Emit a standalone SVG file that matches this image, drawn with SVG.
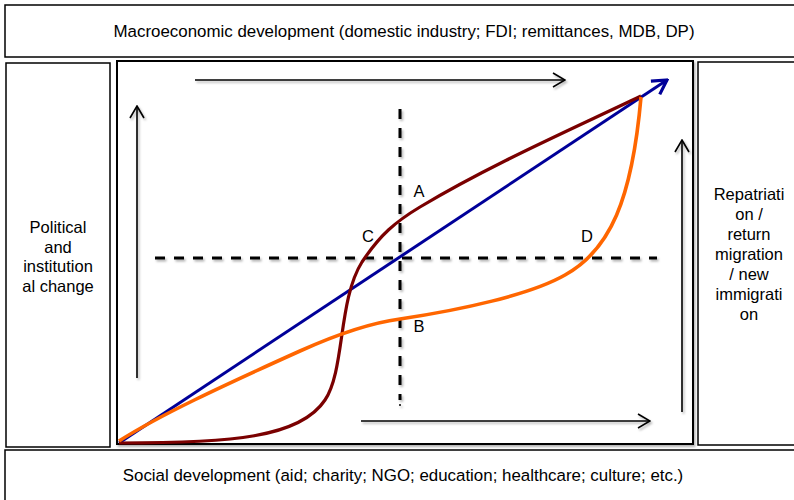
<svg xmlns="http://www.w3.org/2000/svg" width="794" height="500" viewBox="0 0 794 500">
<style>
.box{fill:#fff;stroke:#000;stroke-width:1.5}
.lbl{font-family:"Liberation Sans",Arial,sans-serif;font-size:16.5px;fill:#000;text-anchor:middle}
.wide{font-size:16.9px}
.arr{fill:none;stroke:#000;stroke-width:1.6;marker-end:url(#open)}
.dash{fill:none;stroke:#000;stroke-width:3;stroke-dasharray:10 9}
</style>
<defs>
<filter id="sh" x="-10%" y="-10%" width="120%" height="120%">
<feDropShadow dx="1.5" dy="2" stdDeviation="1.2" flood-color="#000" flood-opacity="0.3"/>
</filter>
<marker id="open" viewBox="0 0 14 16" refX="13" refY="8" markerWidth="14" markerHeight="16" markerUnits="userSpaceOnUse" orient="auto">
<path d="M1,1 L13,8 L1,15" fill="none" stroke="#000" stroke-width="1.6"/>
</marker>
<marker id="blue" viewBox="0 0 18 20" refX="16" refY="10" markerWidth="18" markerHeight="20" markerUnits="userSpaceOnUse" orient="auto">
<path d="M2,2 L16,10 L2,18" fill="none" stroke="#000099" stroke-width="3.2"/>
</marker>
</defs>

<g id="top-box">
<rect class="box" x="5" y="5" width="800" height="52"/>
<text class="lbl wide" x="404" y="37">Macroeconomic development (domestic industry; FDI; remittances, MDB, DP)</text>
</g>
<g id="left-box">
<rect class="box" x="6" y="63" width="104" height="384"/>
<text class="lbl" x="58" y="233">Political</text>
<text class="lbl" x="58" y="252.5">and</text>
<text class="lbl" x="58" y="272">institution</text>
<text class="lbl" x="58" y="291.5">al change</text>
</g>
<g id="right-box">
<rect class="box" x="698" y="62" width="110" height="383"/>
<text class="lbl" x="749" y="200">Repatriati</text>
<text class="lbl" x="749" y="220">on /</text>
<text class="lbl" x="749" y="240">return</text>
<text class="lbl" x="749" y="260">migration</text>
<text class="lbl" x="749" y="280">/ new</text>
<text class="lbl" x="749" y="300">immigrati</text>
<text class="lbl" x="749" y="320">on</text>
</g>
<g id="bottom-box">
<rect class="box" x="5" y="450" width="800" height="60"/>
<text class="lbl wide" x="403" y="481">Social development (aid; charity; NGO; education; healthcare; culture; etc.)</text>
</g>
<g id="main-box">
<rect x="117" y="61" width="576" height="383" fill="#fff" stroke="#000" stroke-width="2" filter="url(#sh)"/>
</g>

<g id="connectors">
<g filter="url(#sh)">
<path class="arr" d="M195,80 H565"/>
<path class="arr" d="M137,378 V106"/>
<path class="arr" d="M682,412 V140"/>
<path class="arr" d="M361,421 H650"/>
<path class="dash" d="M155,258 H657"/>
<path class="dash" d="M400,109 V400"/>
<path d="M400,404 V406" stroke="#000" stroke-width="1.5"/>
</g>
<path d="M119,443 L667,80" fill="none" stroke="#000099" stroke-width="3" marker-end="url(#blue)"/>
<path d="M119,443 C230,443 300,438 325,400 C345,370 338,300 362,262 C380,235 395,222 420,207 C490,165 570,130 641,96" fill="none" stroke="#7a0000" stroke-width="3.2"/>
<path d="M119,441 C160,415 220,387 300,351 C340,333 370,323 400,319 C460,310 530,295 565,275 C610,250 632,200 641,97" fill="none" stroke="#ff6600" stroke-width="3.6"/>
</g>

<g id="point-labels">
<text class="lbl" x="419" y="197">A</text>
<text class="lbl" x="419" y="332">B</text>
<text class="lbl" x="368" y="242">C</text>
<text class="lbl" x="587" y="242">D</text>
</g>
</svg>
